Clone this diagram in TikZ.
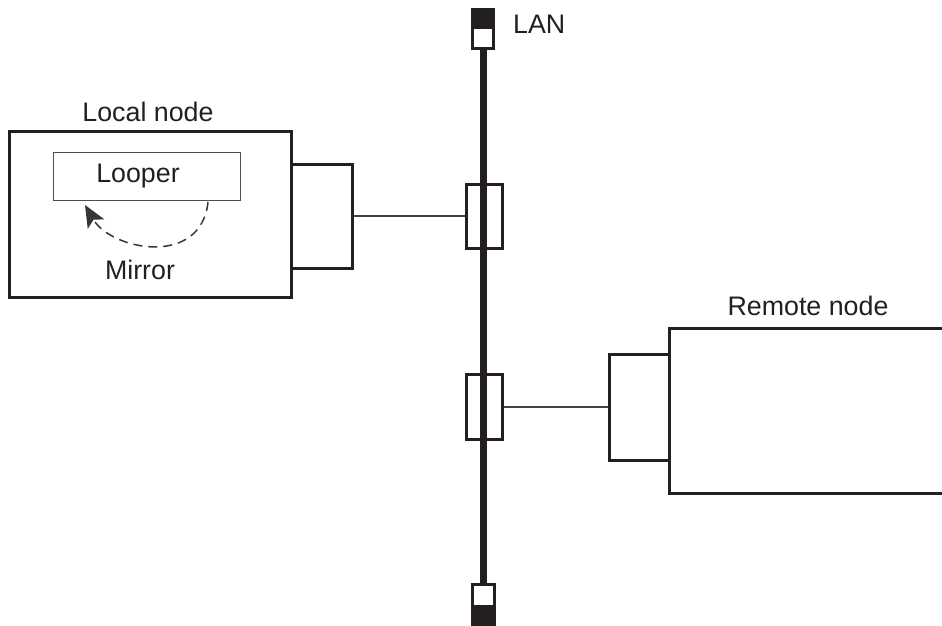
\documentclass[tikz,border=0pt]{standalone}
\usepackage{fontspec}
\setmainfont{Liberation Sans}
\usetikzlibrary{arrows.meta,calc}
\definecolor{ink}{HTML}{231F20}
\begin{document}
\begin{tikzpicture}[x=1pt,y=-1pt,
  box/.style={draw=ink,line width=3pt,inner sep=0pt},
  plug/.style={draw=ink,line width=2pt,inner sep=0pt,fill=white},
  lbl/.style={font=\fontsize{26.8}{30}\selectfont,text=ink,inner sep=0pt},
  link/.style={draw=ink!85,line width=1.3pt},
  bus/.style={draw=ink,line width=7pt},
  mirrorarrow/.style={draw=ink!90,line width=1.5pt,dash pattern=on 9pt off 6pt,
    -{Stealth[length=22pt,width=19pt,inset=5pt]}}]
\useasboundingbox (0,0) rectangle (942,626);
% LAN bus and plugs
\node[plug,minimum width=20pt,minimum height=38pt] (topplug) at (483,29) {};
\node[plug,minimum width=21pt,minimum height=40pt] (botplug) at (483,605) {};
\fill[ink] (topplug.north west) rectangle ($(topplug.east)$);
\fill[ink] ($(botplug.west)$) rectangle (botplug.south east);
\draw[plug,fill=none] (topplug.north west) rectangle (topplug.south east);
\draw[plug,fill=none] (botplug.north west) rectangle (botplug.south east);
\draw[bus] (topplug.south) -- (botplug.north);
\node[lbl,anchor=west] (lan) at (513,24) {LAN};
% taps
\node[box,minimum width=36pt,minimum height=64pt] (tap1) at (484,216) {};
\node[box,minimum width=36pt,minimum height=65pt] (tap2) at (484,407) {};
% local node
\node[box,minimum width=282pt,minimum height=166pt] (local) at (150,214) {};
\node[box,minimum width=61pt,minimum height=104pt] (localsub) at (321.5,216) {};
\node[lbl] (locallbl) at (148,112) {Local node};
\node[draw=ink!80,line width=1pt,minimum width=187pt,minimum height=48pt,inner sep=0pt] (looper) at (146.5,176) {};
\node[lbl] (looperlbl) at (138,176) {Looper};
\node[lbl] (mirror) at (140,270) {Mirror};
\coordinate (arcstart) at (208,202);
\coordinate (arctip) at (85,205);
\draw[mirrorarrow] (arcstart) .. controls (201,268) and (111,250) .. (arctip);
% remote node
\node[box,minimum width=332pt,minimum height=165pt] (remote) at (835,410.5) {};
\node[box,minimum width=60pt,minimum height=106pt] (remotesub) at (639,407) {};
\node[lbl] (remotelbl) at (808,306) {Remote node};
% links
\draw[link] (localsub.east) -- (tap1.west);
\draw[link] (tap2.east) -- (remotesub.west);
\end{tikzpicture}
\end{document}
